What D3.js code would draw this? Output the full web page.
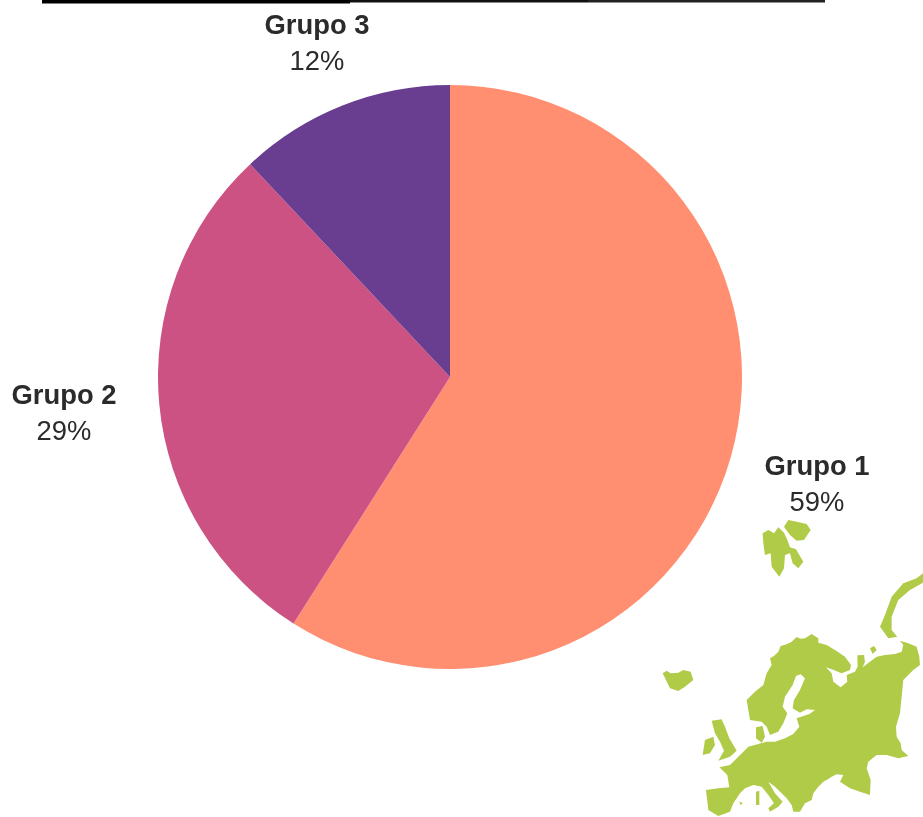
<!DOCTYPE html>
<html><head><meta charset="utf-8">
<script src="https://cdnjs.cloudflare.com/ajax/libs/d3/7.8.5/d3.min.js"></script>
<style>html,body{margin:0;padding:0;background:#fff;overflow:hidden}svg{display:block;filter:blur(.4px)}</style>
</head><body><svg id="c" width="923" height="817"></svg>
<script>
const categories=["Grupo 1","Grupo 2","Grupo 3"];
const values=[59,29,12];
const colors=["#ff8f70","#cc5283","#693d8f"];
const labelPos=[[817,466],[64,395],[317,25]];
const mapLand=[
"M360,445L372,438L385,425L392,408L410,403L425,395L440,381L452,386L465,385L485,372L505,385L505,398L530,405L555,420L585,440L603,465L600,480L575,490L545,478L528,472L545,490L550,515L572,532L592,515L590,495L615,485L623,470L622,436L642,435L645,455L638,472L660,455L680,440L705,435L735,432L755,425L760,405L750,392L775,400L800,410L808,440L810,465L790,480L760,510L755,560L750,610L738,650L740,680L752,700L755,720L775,738L745,745L710,735L680,735L655,755L650,775L662,810L660,855L630,845L600,835L570,815L580,795L560,793L545,800L530,810L520,815L505,830L490,850L485,870L465,880L450,905L430,905L425,885L410,865L395,850L375,830L355,815L375,850L398,875L385,890L360,905L355,895L372,880L355,855L335,830L310,825L285,835L270,850L250,880L240,905L205,918L175,900L168,840L205,835L238,832L232,795L208,772L240,765L265,740L295,710L325,702L350,695L375,695L405,685L430,672L448,650L440,625L478,612L495,600L470,598L450,608L428,595L432,570L450,540L465,505L452,493L438,498L428,525L405,560L398,590L412,610L400,640L385,665L360,675L350,650L335,635L300,630L290,570L315,545L340,525L350,490L365,465Z",
"M318,652L338,648L345,680L335,698L318,685Z",
"M38,490L50,482L62,490L85,488L100,480L122,485L130,510L105,530L85,543L60,535L48,510Z",
"M338,70L355,60L372,70L385,52L402,68L412,90L420,112L438,118L460,155L445,175L428,160L420,130L405,135L402,175L388,200L365,170L362,130L345,135L340,100Z",
"M402,50L415,30L440,35L470,42L482,60L462,90L440,92L420,75Z",
"M185,632L215,628L225,650L238,685L260,722L240,740L205,752L222,722L210,695L195,670Z",
"M165,690L190,680L195,705L180,730L158,735Z",
"M690,350L705,315L725,260L760,220L800,205L819,190L819,218L780,240L745,270L725,320L725,360L742,380L715,385Z",
"M660,415L672,408L680,420L668,432Z",
"M318,845L328,842L328,885L318,885Z",
"M268,875L278,878L272,886Z"
];
const svg=d3.select("#c");
svg.append("rect").attr("x",42).attr("y",0).attr("width",308).attr("height",3.5).attr("fill","#000");
svg.append("rect").attr("x",350).attr("y",0).attr("width",238).attr("height",2.5).attr("fill","#111");
svg.append("rect").attr("x",588).attr("y",0).attr("width",237).attr("height",2.5).attr("fill","#222");
const pie=d3.pie().sort(null).value(d=>d);
const arc=d3.arc().innerRadius(0).outerRadius(292);
const g=svg.append("g").attr("transform","translate(450,377)");
g.selectAll("path").data(pie(values)).join("path").attr("d",arc).attr("fill",(d,i)=>colors[i]);
const map=svg.append("g").attr("transform","translate(650,510) scale(0.3333)");
map.selectAll("path").data(mapLand).join("path").attr("d",d=>d).attr("fill","#b0cb48");
const lab=svg.append("g").attr("font-family","Liberation Sans").attr("text-anchor","middle").attr("fill","#2b2b2b");
categories.forEach((c,i)=>{
 lab.append("text").attr("x",labelPos[i][0]).attr("y",labelPos[i][1]+9).attr("font-size",27.4).attr("font-weight","bold").text(c);
 lab.append("text").attr("x",labelPos[i][0]).attr("y",labelPos[i][1]+45).attr("font-size",27.4).text(values[i]+"%");
});
</script></body></html>
